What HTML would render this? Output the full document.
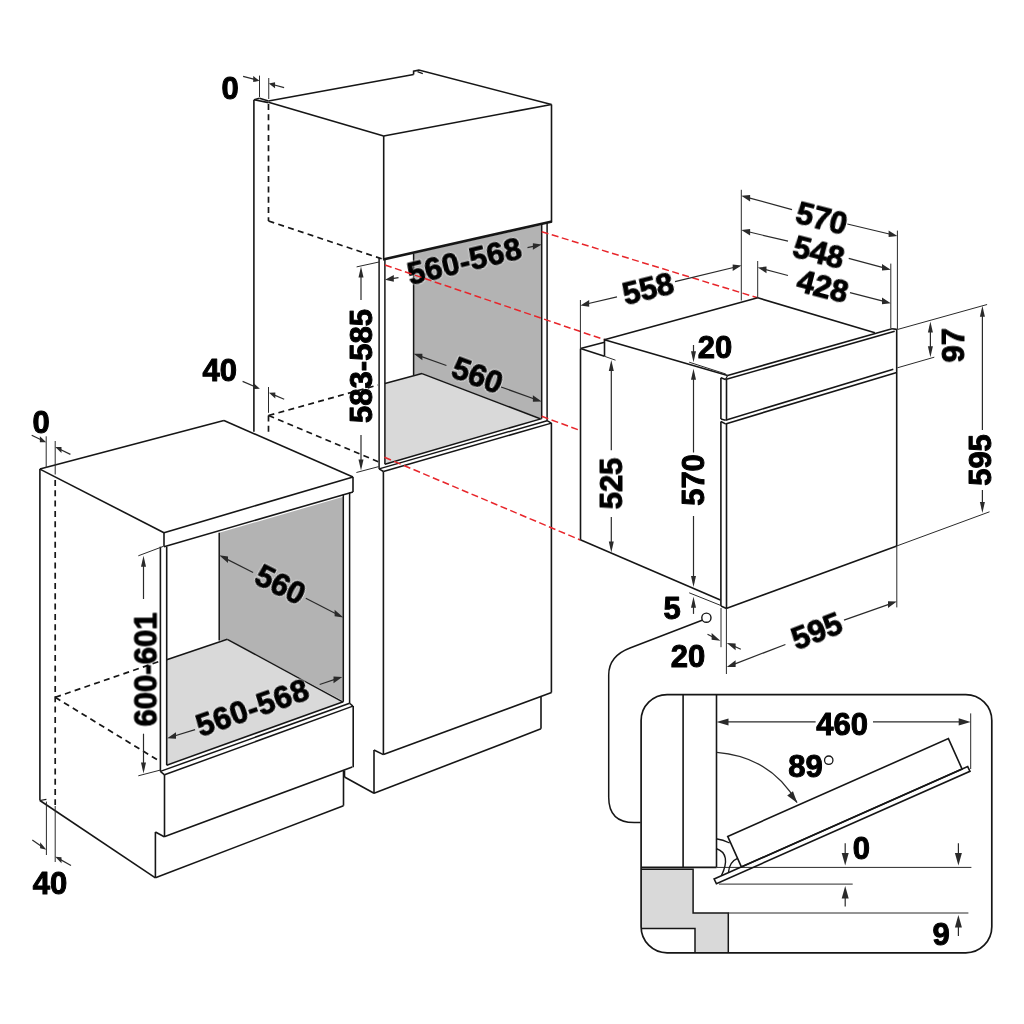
<!DOCTYPE html>
<html><head><meta charset="utf-8"><style>
html,body{margin:0;padding:0;background:#fff;}
svg{display:block;}
text{filter:url(#nolcd);}
text{font-family:"Liberation Sans",sans-serif;font-weight:bold;fill:#000;stroke:#000;stroke-width:1.0px;stroke-linejoin:round;}
</style></head><body>
<svg width="1024" height="1024" viewBox="0 0 1024 1024">
<defs><filter id="nolcd" x="-20%" y="-20%" width="140%" height="140%"><feOffset dx="0" dy="0"/></filter></defs>
<rect width="1024" height="1024" fill="#fff"/>
<polygon points="413.6,253.5 541.7,225 541.7,418.6 422,373.6 413.6,375" fill="#b3b3b3"/>
<polygon points="384.9,383.4 422,373.6 540.3,418.75 384.9,464.2" fill="#d9d9d9"/>
<line x1="254.1" y1="99.8" x2="268.5" y2="102.6" stroke="#161616" stroke-width="1.6" stroke-linecap="butt"/>
<line x1="259.5" y1="98.3" x2="268.5" y2="101.0" stroke="#161616" stroke-width="1.6" stroke-linecap="butt"/>
<line x1="254.1" y1="99.8" x2="259.5" y2="98.3" stroke="#161616" stroke-width="1.6" stroke-linecap="butt"/>
<line x1="268.5" y1="101.0" x2="413.6" y2="74.5" stroke="#161616" stroke-width="1.6" stroke-linecap="butt"/>
<polyline points="413.6,74.5 413.6,71.1 418.9,70.1 551.5,104.5" fill="none" stroke="#161616" stroke-width="1.6" stroke-linejoin="miter"/>
<line x1="417.5" y1="71.6" x2="422.8" y2="73.6" stroke="#161616" stroke-width="1.2" stroke-linecap="butt"/>
<line x1="268.5" y1="102.3" x2="383.7" y2="136" stroke="#161616" stroke-width="1.6" stroke-linecap="butt"/>
<line x1="383.7" y1="136" x2="551.5" y2="104.5" stroke="#161616" stroke-width="1.6" stroke-linecap="butt"/>
<line x1="551.5" y1="104.5" x2="551.5" y2="222" stroke="#161616" stroke-width="1.6" stroke-linecap="butt"/>
<line x1="383.7" y1="136" x2="383.7" y2="259.5" stroke="#161616" stroke-width="1.6" stroke-linecap="butt"/>
<line x1="253.9" y1="99.8" x2="253.9" y2="431.8" stroke="#161616" stroke-width="1.6" stroke-linecap="butt"/>
<line x1="383.0" y1="259.5" x2="552" y2="221.5" stroke="#161616" stroke-width="2.6" stroke-linecap="butt"/>
<line x1="268.5" y1="104" x2="268.5" y2="221" stroke="#161616" stroke-width="1.7" stroke-dasharray="6,4.3" stroke-linecap="butt"/>
<line x1="268.5" y1="221" x2="382.5" y2="259" stroke="#161616" stroke-width="1.7" stroke-dasharray="6,4.3" stroke-linecap="butt"/>
<line x1="379.1" y1="258" x2="379.1" y2="468.9" stroke="#161616" stroke-width="1.5" stroke-linecap="butt"/>
<line x1="384.9" y1="260" x2="384.9" y2="464.2" stroke="#161616" stroke-width="1.5" stroke-linecap="butt"/>
<line x1="413.6" y1="254" x2="413.6" y2="375" stroke="#161616" stroke-width="1.5" stroke-linecap="butt"/>
<line x1="541.7" y1="223" x2="541.7" y2="418.6" stroke="#161616" stroke-width="1.5" stroke-linecap="butt"/>
<line x1="547.1" y1="222" x2="547.1" y2="420.7" stroke="#161616" stroke-width="1.5" stroke-linecap="butt"/>
<line x1="384.9" y1="383.4" x2="422" y2="373.6" stroke="#161616" stroke-width="1.5" stroke-linecap="butt"/>
<line x1="422" y1="373.6" x2="540.3" y2="418.75" stroke="#161616" stroke-width="1.5" stroke-linecap="butt"/>
<line x1="384.9" y1="464.2" x2="541.7" y2="418.6" stroke="#161616" stroke-width="1.5" stroke-linecap="butt"/>
<line x1="379.1" y1="468.9" x2="547.1" y2="420.7" stroke="#161616" stroke-width="1.5" stroke-linecap="butt"/>
<line x1="383.4" y1="471.5" x2="551.4" y2="423.1" stroke="#161616" stroke-width="1.5" stroke-linecap="butt"/>
<line x1="379.1" y1="468.9" x2="383.4" y2="471.5" stroke="#161616" stroke-width="1.5" stroke-linecap="butt"/>
<line x1="547.1" y1="420.7" x2="551.4" y2="423.1" stroke="#161616" stroke-width="1.5" stroke-linecap="butt"/>
<line x1="383.4" y1="471.5" x2="383.4" y2="754.6" stroke="#161616" stroke-width="1.6" stroke-linecap="butt"/>
<line x1="551.4" y1="423.1" x2="551.4" y2="692.5" stroke="#161616" stroke-width="1.6" stroke-linecap="butt"/>
<line x1="383.4" y1="754.6" x2="551.6" y2="692.5" stroke="#161616" stroke-width="1.6" stroke-linecap="butt"/>
<line x1="374" y1="750" x2="383.4" y2="754.6" stroke="#161616" stroke-width="1.6" stroke-linecap="butt"/>
<line x1="374" y1="750" x2="374" y2="793.3" stroke="#161616" stroke-width="1.6" stroke-linecap="butt"/>
<line x1="374" y1="793.3" x2="541" y2="728.8" stroke="#161616" stroke-width="1.6" stroke-linecap="butt"/>
<line x1="541" y1="697" x2="541" y2="728.8" stroke="#161616" stroke-width="1.6" stroke-linecap="butt"/>
<line x1="344.5" y1="770.5" x2="344.5" y2="777" stroke="#161616" stroke-width="1.6" stroke-linecap="butt"/>
<line x1="344.5" y1="777" x2="374" y2="793.3" stroke="#161616" stroke-width="1.6" stroke-linecap="butt"/>
<line x1="268.5" y1="415.5" x2="378" y2="385.0" stroke="#161616" stroke-width="1.7" stroke-dasharray="6,4.3" stroke-linecap="butt"/>
<line x1="268.5" y1="415.5" x2="378.2" y2="461.7" stroke="#161616" stroke-width="1.7" stroke-dasharray="6,4.3" stroke-linecap="butt"/>
<line x1="268.5" y1="415.5" x2="268.5" y2="432" stroke="#161616" stroke-width="1.7" stroke-dasharray="6,4.3" stroke-linecap="butt"/>
<line x1="259.5" y1="75.6" x2="259.5" y2="97.1" stroke="#2a2a2a" stroke-width="1.0" stroke-linecap="butt"/>
<line x1="268.75" y1="78" x2="268.75" y2="99" stroke="#2a2a2a" stroke-width="1.0" stroke-linecap="butt"/>
<line x1="243.1" y1="76.4" x2="255.6307866025269" y2="79.68551112139426" stroke="#2a2a2a" stroke-width="1.2" stroke-linecap="butt"/>
<polygon points="259.50,80.70 253.20,76.05 253.20,82.05" fill="#2a2a2a"/>
<line x1="284.1" y1="87.7" x2="272.60172574753153" y2="84.47898506282642" stroke="#2a2a2a" stroke-width="1.2" stroke-linecap="butt"/>
<polygon points="268.75,83.40 275.05,82.16 275.05,88.16" fill="#2a2a2a"/>
<text transform="translate(230,88.5) rotate(0) scale(1.0,1)" x="0" y="0" font-size="31" text-anchor="middle" dominant-baseline="central" opacity="0.999">0</text>
<line x1="268.5" y1="387" x2="268.5" y2="412.8" stroke="#2a2a2a" stroke-width="1.0" stroke-linecap="butt"/>
<line x1="242.6" y1="381.4" x2="256.21466257285743" y2="387.14491542091673" stroke="#2a2a2a" stroke-width="1.2" stroke-linecap="butt"/>
<polygon points="259.90,388.70 253.60,383.04 253.60,389.04" fill="#2a2a2a"/>
<line x1="284.2" y1="399.3" x2="272.67783049066696" y2="394.3727564598247" stroke="#2a2a2a" stroke-width="1.2" stroke-linecap="butt"/>
<polygon points="269.00,392.80 275.30,392.49 275.30,398.49" fill="#2a2a2a"/>
<text transform="translate(219.8,370) rotate(0) scale(1.0,1)" x="0" y="0" font-size="31" text-anchor="middle" dominant-baseline="central" opacity="0.999">40</text>
<line x1="356.6" y1="266.9" x2="379" y2="262" stroke="#2a2a2a" stroke-width="1.0" stroke-linecap="butt"/>
<line x1="356.4" y1="472.5" x2="378.7" y2="466.6" stroke="#2a2a2a" stroke-width="1.0" stroke-linecap="butt"/>
<line x1="361" y1="300" x2="361.0" y2="270.5" stroke="#2a2a2a" stroke-width="1.2" stroke-linecap="butt"/>
<polygon points="361.00,266.50 363.50,277.50 358.50,277.50" fill="#2a2a2a"/>
<line x1="361" y1="435" x2="361.0" y2="466.5" stroke="#2a2a2a" stroke-width="1.2" stroke-linecap="butt"/>
<polygon points="361.00,470.50 358.50,459.50 363.50,459.50" fill="#2a2a2a"/>
<text transform="translate(361,366) rotate(-90) scale(1.0,1)" x="0" y="0" font-size="31" text-anchor="middle" dominant-baseline="central" opacity="0.999">583-585</text>
<line x1="398.5" y1="277.6" x2="388.9479211700618" y2="279.15663506858255" stroke="#2a2a2a" stroke-width="1.2" stroke-linecap="butt"/>
<polygon points="385.00,279.80 393.80,275.07 393.80,281.67" fill="#2a2a2a"/>
<line x1="527.5" y1="247.7" x2="537.8038271598214" y2="245.305448617788" stroke="#2a2a2a" stroke-width="1.2" stroke-linecap="butt"/>
<polygon points="541.70,244.40 532.90,243.15 532.90,249.75" fill="#2a2a2a"/>
<text transform="translate(464.5,261) rotate(-13.5) scale(1.0,1)" x="0" y="0" font-size="31" text-anchor="middle" dominant-baseline="central" letter-spacing="0.4" style="fill:#fff;stroke:#fff;stroke-width:3.2px;opacity:0.45">560-568</text>
<text transform="translate(464.5,261) rotate(-13.5) scale(1.0,1)" x="0" y="0" font-size="31" text-anchor="middle" dominant-baseline="central" letter-spacing="0.4" opacity="0.999">560-568</text>
<line x1="446.4" y1="365.5" x2="417.36748710469595" y2="355.1438902172239" stroke="#2a2a2a" stroke-width="1.2" stroke-linecap="butt"/>
<polygon points="413.60,353.80 422.40,353.64 422.40,360.24" fill="#2a2a2a"/>
<line x1="501" y1="387" x2="537.9349196953125" y2="400.2493815123234" stroke="#2a2a2a" stroke-width="1.2" stroke-linecap="butt"/>
<polygon points="541.70,401.60 532.90,395.14 532.90,401.74" fill="#2a2a2a"/>
<text transform="translate(477.5,375.3) rotate(20.5) scale(1.0,1)" x="0" y="0" font-size="31" text-anchor="middle" dominant-baseline="central" style="fill:#fff;stroke:#fff;stroke-width:3.2px;opacity:0.45">560</text>
<text transform="translate(477.5,375.3) rotate(20.5) scale(1.0,1)" x="0" y="0" font-size="31" text-anchor="middle" dominant-baseline="central" opacity="0.999">560</text>
<polygon points="219.2,532.7 343.4,496.8 343.4,701 227.3,639.3 219.2,640.5" fill="#b3b3b3"/>
<polygon points="166.7,659.7 227.3,639.3 342.7,701.8 166.7,765.2" fill="#d9d9d9"/>
<line x1="39.9" y1="469.1" x2="223.9" y2="420.6" stroke="#161616" stroke-width="1.6" stroke-linecap="butt"/>
<line x1="223.9" y1="420.6" x2="353" y2="476.9" stroke="#161616" stroke-width="1.6" stroke-linecap="butt"/>
<line x1="39.9" y1="469.1" x2="164" y2="532.7" stroke="#161616" stroke-width="1.6" stroke-linecap="butt"/>
<line x1="164" y1="532.7" x2="353" y2="476.9" stroke="#161616" stroke-width="1.6" stroke-linecap="butt"/>
<line x1="164" y1="546.7" x2="353" y2="491.9" stroke="#161616" stroke-width="1.6" stroke-linecap="butt"/>
<line x1="164" y1="532.7" x2="164" y2="546.7" stroke="#161616" stroke-width="1.6" stroke-linecap="butt"/>
<line x1="353" y1="476.9" x2="353" y2="491.9" stroke="#161616" stroke-width="1.6" stroke-linecap="butt"/>
<line x1="39.9" y1="469.1" x2="39.9" y2="800.5" stroke="#161616" stroke-width="1.6" stroke-linecap="butt"/>
<line x1="160.4" y1="546.7" x2="160.4" y2="771.4" stroke="#161616" stroke-width="1.6" stroke-linecap="butt"/>
<line x1="166.7" y1="546.7" x2="166.7" y2="765.2" stroke="#161616" stroke-width="1.6" stroke-linecap="butt"/>
<line x1="219.2" y1="532.7" x2="219.2" y2="640.5" stroke="#161616" stroke-width="1.5" stroke-linecap="butt"/>
<line x1="343.3" y1="494.5" x2="343.3" y2="701.8" stroke="#161616" stroke-width="1.5" stroke-linecap="butt"/>
<line x1="349.6" y1="492.5" x2="349.6" y2="703.2" stroke="#161616" stroke-width="1.5" stroke-linecap="butt"/>
<line x1="166.7" y1="659.7" x2="227.3" y2="639.3" stroke="#161616" stroke-width="1.5" stroke-linecap="butt"/>
<line x1="227.3" y1="639.3" x2="342.7" y2="701.8" stroke="#161616" stroke-width="1.5" stroke-linecap="butt"/>
<line x1="166.7" y1="765.2" x2="343.3" y2="701.8" stroke="#161616" stroke-width="1.5" stroke-linecap="butt"/>
<line x1="160.4" y1="771.4" x2="349.6" y2="703.2" stroke="#161616" stroke-width="1.5" stroke-linecap="butt"/>
<line x1="164.5" y1="774.8" x2="352.9" y2="706.1" stroke="#161616" stroke-width="1.5" stroke-linecap="butt"/>
<line x1="160.4" y1="771.4" x2="164.5" y2="774.8" stroke="#161616" stroke-width="1.5" stroke-linecap="butt"/>
<line x1="349.6" y1="703.2" x2="352.9" y2="706.1" stroke="#161616" stroke-width="1.5" stroke-linecap="butt"/>
<line x1="164.5" y1="774.8" x2="164.5" y2="837" stroke="#161616" stroke-width="1.6" stroke-linecap="butt"/>
<line x1="353.2" y1="706.1" x2="353.2" y2="767.2" stroke="#161616" stroke-width="1.6" stroke-linecap="butt"/>
<line x1="164.2" y1="836.7" x2="352.3" y2="767" stroke="#161616" stroke-width="1.6" stroke-linecap="butt"/>
<line x1="155.4" y1="832" x2="164.2" y2="836.7" stroke="#161616" stroke-width="1.6" stroke-linecap="butt"/>
<line x1="155.4" y1="832" x2="155.4" y2="877.8" stroke="#161616" stroke-width="1.6" stroke-linecap="butt"/>
<line x1="155.4" y1="877.8" x2="343.5" y2="805.7" stroke="#161616" stroke-width="1.6" stroke-linecap="butt"/>
<line x1="343.5" y1="770.5" x2="343.5" y2="805.7" stroke="#161616" stroke-width="1.6" stroke-linecap="butt"/>
<line x1="39.9" y1="800.5" x2="155.4" y2="877.8" stroke="#161616" stroke-width="1.6" stroke-linecap="butt"/>
<line x1="39.9" y1="800.5" x2="46.4" y2="799.3" stroke="#161616" stroke-width="1.2" stroke-linecap="butt"/>
<line x1="55.2" y1="480" x2="55.2" y2="805" stroke="#161616" stroke-width="1.7" stroke-dasharray="6,4.3" stroke-linecap="butt"/>
<line x1="55.2" y1="697.3" x2="160.6" y2="661" stroke="#161616" stroke-width="1.7" stroke-dasharray="6,4.3" stroke-linecap="butt"/>
<line x1="55.2" y1="697.3" x2="160.6" y2="761.8" stroke="#161616" stroke-width="1.7" stroke-dasharray="6,4.3" stroke-linecap="butt"/>
<line x1="46.2" y1="436.3" x2="46.2" y2="468" stroke="#2a2a2a" stroke-width="1.0" stroke-linecap="butt"/>
<line x1="55.2" y1="441" x2="55.2" y2="474.5" stroke="#2a2a2a" stroke-width="1.0" stroke-linecap="butt"/>
<line x1="31.7" y1="435.2" x2="42.59779345454169" y2="440.4610037366753" stroke="#2a2a2a" stroke-width="1.2" stroke-linecap="butt"/>
<polygon points="46.20,442.20 39.90,436.16 39.90,442.16" fill="#2a2a2a"/>
<line x1="70.4" y1="454.4" x2="58.787098683828496" y2="448.669950008468" stroke="#2a2a2a" stroke-width="1.2" stroke-linecap="butt"/>
<polygon points="55.20,446.90 61.50,447.01 61.50,453.01" fill="#2a2a2a"/>
<text transform="translate(41.1,422.8) rotate(0) scale(1.0,1)" x="0" y="0" font-size="31" text-anchor="middle" dominant-baseline="central" opacity="0.999">0</text>
<line x1="46.4" y1="801.6" x2="46.4" y2="855" stroke="#2a2a2a" stroke-width="1.0" stroke-linecap="butt"/>
<line x1="55.2" y1="806" x2="55.2" y2="862" stroke="#2a2a2a" stroke-width="1.0" stroke-linecap="butt"/>
<line x1="32.3" y1="840" x2="43.104514401051325" y2="847.4328928858297" stroke="#2a2a2a" stroke-width="1.2" stroke-linecap="butt"/>
<polygon points="46.40,849.70 40.10,842.37 40.10,848.37" fill="#2a2a2a"/>
<line x1="71" y1="865.5" x2="58.69454054541915" y2="858.6463263797272" stroke="#2a2a2a" stroke-width="1.2" stroke-linecap="butt"/>
<polygon points="55.20,856.70 61.50,857.21 61.50,863.21" fill="#2a2a2a"/>
<text transform="translate(49.9,883) rotate(0) scale(1.0,1)" x="0" y="0" font-size="31" text-anchor="middle" dominant-baseline="central" opacity="0.999">40</text>
<line x1="138.3" y1="555.8" x2="163" y2="546.5" stroke="#2a2a2a" stroke-width="1.0" stroke-linecap="butt"/>
<line x1="138.3" y1="775.8" x2="160.6" y2="770" stroke="#2a2a2a" stroke-width="1.0" stroke-linecap="butt"/>
<line x1="143.5" y1="599" x2="143.5" y2="559.8" stroke="#2a2a2a" stroke-width="1.2" stroke-linecap="butt"/>
<polygon points="143.50,555.80 146.00,566.80 141.00,566.80" fill="#2a2a2a"/>
<line x1="143.5" y1="733.7" x2="143.5" y2="769.5" stroke="#2a2a2a" stroke-width="1.2" stroke-linecap="butt"/>
<polygon points="143.50,773.50 141.00,762.50 146.00,762.50" fill="#2a2a2a"/>
<text transform="translate(145.4,669.5) rotate(-90) scale(1.0,1)" x="0" y="0" font-size="31" text-anchor="middle" dominant-baseline="central" opacity="0.999">600-601</text>
<line x1="253.1" y1="572.5" x2="222.7671243767436" y2="557.109868415339" stroke="#2a2a2a" stroke-width="1.2" stroke-linecap="butt"/>
<polygon points="219.20,555.30 228.00,556.46 228.00,563.06" fill="#2a2a2a"/>
<line x1="305.8" y1="598.2" x2="339.8452688174657" y2="615.7659099749691" stroke="#2a2a2a" stroke-width="1.2" stroke-linecap="butt"/>
<polygon points="343.40,617.60 334.60,609.76 334.60,616.36" fill="#2a2a2a"/>
<text transform="translate(280.5,584.5) rotate(26.6) scale(1.0,1)" x="0" y="0" font-size="31" text-anchor="middle" dominant-baseline="central" style="fill:#fff;stroke:#fff;stroke-width:3.2px;opacity:0.45">560</text>
<text transform="translate(280.5,584.5) rotate(26.6) scale(1.0,1)" x="0" y="0" font-size="31" text-anchor="middle" dominant-baseline="central" opacity="0.999">560</text>
<line x1="195.1" y1="729.6" x2="171.022523082984" y2="737.0217312360695" stroke="#2a2a2a" stroke-width="1.2" stroke-linecap="butt"/>
<polygon points="167.20,738.20 176.00,732.19 176.00,738.79" fill="#2a2a2a"/>
<line x1="319.7" y1="684.5" x2="338.5086353472948" y2="678.1749721840955" stroke="#2a2a2a" stroke-width="1.2" stroke-linecap="butt"/>
<polygon points="342.30,676.90 333.50,676.56 333.50,683.16" fill="#2a2a2a"/>
<text transform="translate(252.5,707.5) rotate(-19.3) scale(1.0,1)" x="0" y="0" font-size="31" text-anchor="middle" dominant-baseline="central" letter-spacing="0.5" style="fill:#fff;stroke:#fff;stroke-width:3.2px;opacity:0.45">560-568</text>
<text transform="translate(252.5,707.5) rotate(-19.3) scale(1.0,1)" x="0" y="0" font-size="31" text-anchor="middle" dominant-baseline="central" letter-spacing="0.5" opacity="0.999">560-568</text>
<line x1="385" y1="265" x2="604.4" y2="339.7" stroke="#e8262b" stroke-width="1.5" stroke-dasharray="7,3.5" stroke-linecap="butt"/>
<line x1="541.7" y1="231.7" x2="757.7" y2="297.8" stroke="#e8262b" stroke-width="1.5" stroke-dasharray="7,3.5" stroke-linecap="butt"/>
<line x1="384.5" y1="457.3" x2="580.3" y2="540" stroke="#e8262b" stroke-width="1.5" stroke-dasharray="7,3.5" stroke-linecap="butt"/>
<line x1="541.7" y1="416.3" x2="580.3" y2="430.5" stroke="#e8262b" stroke-width="1.5" stroke-dasharray="7,3.5" stroke-linecap="butt"/>
<line x1="580.5" y1="348.5" x2="580.5" y2="539.7" stroke="#161616" stroke-width="1.6" stroke-linecap="butt"/>
<line x1="580.5" y1="348.5" x2="604.5" y2="342.2" stroke="#161616" stroke-width="1.6" stroke-linecap="butt"/>
<line x1="604.5" y1="338.7" x2="604.5" y2="356.3" stroke="#161616" stroke-width="1.6" stroke-linecap="butt"/>
<line x1="580.5" y1="348.5" x2="604.5" y2="356.3" stroke="#161616" stroke-width="1.6" stroke-linecap="butt"/>
<line x1="604.4" y1="339.7" x2="727.6" y2="375.4" stroke="#161616" stroke-width="1.6" stroke-linecap="butt"/>
<line x1="604.4" y1="339.7" x2="757.7" y2="297.8" stroke="#161616" stroke-width="1.6" stroke-linecap="butt"/>
<line x1="757.7" y1="297.8" x2="874.9" y2="332.8" stroke="#161616" stroke-width="1.6" stroke-linecap="butt"/>
<line x1="727.6" y1="375.4" x2="892" y2="328.7" stroke="#161616" stroke-width="1.6" stroke-linecap="butt"/>
<line x1="725.5" y1="379.5" x2="894.7" y2="331.2" stroke="#161616" stroke-width="1.6" stroke-linecap="butt"/>
<line x1="892" y1="328.7" x2="896.7" y2="329.4" stroke="#161616" stroke-width="1.6" stroke-linecap="butt"/>
<line x1="720.9" y1="377.8" x2="725.5" y2="379.5" stroke="#161616" stroke-width="1.5" stroke-linecap="butt"/>
<line x1="727.6" y1="375.4" x2="725.5" y2="379.5" stroke="#161616" stroke-width="1.2" stroke-linecap="butt"/>
<line x1="720.9" y1="377.8" x2="720.9" y2="419" stroke="#161616" stroke-width="1.6" stroke-linecap="butt"/>
<line x1="720.9" y1="421.5" x2="720.9" y2="606" stroke="#161616" stroke-width="1.6" stroke-linecap="butt"/>
<line x1="720.9" y1="606" x2="726.5" y2="608.5" stroke="#161616" stroke-width="1.4" stroke-linecap="butt"/>
<line x1="726.5" y1="379.5" x2="726.5" y2="420.2" stroke="#161616" stroke-width="1.6" stroke-linecap="butt"/>
<line x1="726.5" y1="423.9" x2="726.5" y2="608.5" stroke="#161616" stroke-width="1.6" stroke-linecap="butt"/>
<line x1="725.5" y1="420.2" x2="893.3" y2="369.3" stroke="#161616" stroke-width="1.6" stroke-linecap="butt"/>
<line x1="725.5" y1="423.9" x2="896.7" y2="372.5" stroke="#161616" stroke-width="1.6" stroke-linecap="butt"/>
<line x1="720.9" y1="419" x2="725.5" y2="420.2" stroke="#161616" stroke-width="1.5" stroke-linecap="butt"/>
<line x1="720.9" y1="421.5" x2="725.5" y2="423.9" stroke="#161616" stroke-width="1.5" stroke-linecap="butt"/>
<line x1="896.7" y1="329" x2="896.7" y2="546" stroke="#161616" stroke-width="1.6" stroke-linecap="butt"/>
<line x1="726.2" y1="608.5" x2="896.8" y2="545.9" stroke="#161616" stroke-width="1.6" stroke-linecap="butt"/>
<line x1="580.3" y1="539.7" x2="720.4" y2="599.9" stroke="#161616" stroke-width="1.6" stroke-linecap="butt"/>
<line x1="580.4" y1="300" x2="580.4" y2="348" stroke="#2a2a2a" stroke-width="1.0" stroke-linecap="butt"/>
<line x1="741.3" y1="189.8" x2="741.3" y2="300.5" stroke="#2a2a2a" stroke-width="1.0" stroke-linecap="butt"/>
<line x1="757.7" y1="261" x2="757.7" y2="297.9" stroke="#2a2a2a" stroke-width="1.0" stroke-linecap="butt"/>
<line x1="890.8" y1="263.6" x2="890.8" y2="328.2" stroke="#2a2a2a" stroke-width="1.0" stroke-linecap="butt"/>
<line x1="897.4" y1="230.6" x2="897.4" y2="329" stroke="#2a2a2a" stroke-width="1.0" stroke-linecap="butt"/>
<line x1="617" y1="296.8" x2="584.2939475537144" y2="304.48502871688675" stroke="#2a2a2a" stroke-width="1.2" stroke-linecap="butt"/>
<polygon points="580.40,305.40 589.20,300.03 589.20,306.63" fill="#2a2a2a"/>
<line x1="675" y1="281.7" x2="737.6123158127283" y2="266.5412288032342" stroke="#2a2a2a" stroke-width="1.2" stroke-linecap="butt"/>
<polygon points="741.50,265.60 732.70,264.43 732.70,271.03" fill="#2a2a2a"/>
<text transform="translate(648,288.5) rotate(-13.9) scale(1.0,1)" x="0" y="0" font-size="31" text-anchor="middle" dominant-baseline="central" opacity="0.999">558</text>
<line x1="792" y1="209.6" x2="745.1595818264021" y2="196.8505370651746" stroke="#2a2a2a" stroke-width="1.2" stroke-linecap="butt"/>
<polygon points="741.30,195.80 750.10,194.90 750.10,201.50" fill="#2a2a2a"/>
<line x1="847.3" y1="224" x2="893.5082756278692" y2="234.97561836270748" stroke="#2a2a2a" stroke-width="1.2" stroke-linecap="butt"/>
<polygon points="897.40,235.90 888.60,230.51 888.60,237.11" fill="#2a2a2a"/>
<text transform="translate(821.8,218.2) rotate(14.4) scale(1.0,1)" x="0" y="0" font-size="31" text-anchor="middle" dominant-baseline="central" opacity="0.999">570</text>
<line x1="788" y1="241.2" x2="745.191582214844" y2="231.0249799268687" stroke="#2a2a2a" stroke-width="1.2" stroke-linecap="butt"/>
<polygon points="741.30,230.10 750.10,228.89 750.10,235.49" fill="#2a2a2a"/>
<line x1="848.7" y1="258.3" x2="886.9390463070229" y2="268.6545161021392" stroke="#2a2a2a" stroke-width="1.2" stroke-linecap="butt"/>
<polygon points="890.80,269.70 882.00,264.02 882.00,270.62" fill="#2a2a2a"/>
<text transform="translate(818.8,252.2) rotate(14.6) scale(1.0,1)" x="0" y="0" font-size="31" text-anchor="middle" dominant-baseline="central" opacity="0.999">548</text>
<line x1="788" y1="275.5" x2="761.5706047106504" y2="268.60916756482305" stroke="#2a2a2a" stroke-width="1.2" stroke-linecap="butt"/>
<polygon points="757.70,267.60 766.50,266.59 766.50,273.19" fill="#2a2a2a"/>
<line x1="850" y1="292.6" x2="886.9285251661856" y2="302.1941756559208" stroke="#2a2a2a" stroke-width="1.2" stroke-linecap="butt"/>
<polygon points="890.80,303.20 882.00,297.61 882.00,304.21" fill="#2a2a2a"/>
<text transform="translate(822.8,286.3) rotate(14.6) scale(1.0,1)" x="0" y="0" font-size="31" text-anchor="middle" dominant-baseline="central" opacity="0.999">428</text>
<line x1="897.4" y1="329.5" x2="987.1" y2="304.5" stroke="#2a2a2a" stroke-width="1.0" stroke-linecap="butt"/>
<line x1="897.4" y1="367.8" x2="934.3" y2="357.2" stroke="#2a2a2a" stroke-width="1.0" stroke-linecap="butt"/>
<line x1="930.4" y1="340" x2="930.4" y2="325.6" stroke="#2a2a2a" stroke-width="1.2" stroke-linecap="butt"/>
<polygon points="930.40,321.60 932.90,332.60 927.90,332.60" fill="#2a2a2a"/>
<line x1="930.4" y1="340" x2="930.4" y2="353.2" stroke="#2a2a2a" stroke-width="1.2" stroke-linecap="butt"/>
<polygon points="930.40,357.20 927.90,346.20 932.90,346.20" fill="#2a2a2a"/>
<text transform="translate(953,345.3) rotate(-90) scale(1.0,1)" x="0" y="0" font-size="31" text-anchor="middle" dominant-baseline="central" opacity="0.999">97</text>
<line x1="896.7" y1="546" x2="989.5" y2="511.8" stroke="#2a2a2a" stroke-width="1.0" stroke-linecap="butt"/>
<line x1="982.4" y1="430" x2="982.4" y2="309.8" stroke="#2a2a2a" stroke-width="1.2" stroke-linecap="butt"/>
<polygon points="982.40,305.80 984.90,316.80 979.90,316.80" fill="#2a2a2a"/>
<line x1="982.4" y1="489.9" x2="982.4" y2="509.0" stroke="#2a2a2a" stroke-width="1.2" stroke-linecap="butt"/>
<polygon points="982.40,513.00 979.90,502.00 984.90,502.00" fill="#2a2a2a"/>
<text transform="translate(980,460) rotate(-90) scale(1.0,1)" x="0" y="0" font-size="31" text-anchor="middle" dominant-baseline="central" opacity="0.999">595</text>
<line x1="604.5" y1="356.3" x2="615.5" y2="360.2" stroke="#2a2a2a" stroke-width="1.0" stroke-linecap="butt"/>
<line x1="611.3" y1="450.3" x2="611.3" y2="364.0" stroke="#2a2a2a" stroke-width="1.2" stroke-linecap="butt"/>
<polygon points="611.30,360.00 613.80,371.00 608.80,371.00" fill="#2a2a2a"/>
<line x1="611.3" y1="517" x2="611.3" y2="548.6" stroke="#2a2a2a" stroke-width="1.2" stroke-linecap="butt"/>
<polygon points="611.30,552.60 608.80,541.60 613.80,541.60" fill="#2a2a2a"/>
<text transform="translate(611,483.5) rotate(-90) scale(1.0,1)" x="0" y="0" font-size="31" text-anchor="middle" dominant-baseline="central" opacity="0.999">525</text>
<line x1="693.5" y1="452.5" x2="693.5" y2="372.7" stroke="#2a2a2a" stroke-width="1.2" stroke-linecap="butt"/>
<polygon points="693.50,368.70 696.00,379.70 691.00,379.70" fill="#2a2a2a"/>
<line x1="693.5" y1="516" x2="693.5" y2="583.0" stroke="#2a2a2a" stroke-width="1.2" stroke-linecap="butt"/>
<polygon points="693.50,587.00 691.00,576.00 696.00,576.00" fill="#2a2a2a"/>
<text transform="translate(693,480) rotate(-90) scale(1.0,1)" x="0" y="0" font-size="31" text-anchor="middle" dominant-baseline="central" opacity="0.999">570</text>
<line x1="689.2" y1="362.2" x2="725.8" y2="374" stroke="#2a2a2a" stroke-width="1.0" stroke-linecap="butt"/>
<line x1="693.5" y1="345" x2="693.5" y2="358.2" stroke="#2a2a2a" stroke-width="1.2" stroke-linecap="butt"/>
<polygon points="693.50,362.20 691.00,351.20 696.00,351.20" fill="#2a2a2a"/>
<text transform="translate(715,347.5) rotate(0) scale(1.0,1)" x="0" y="0" font-size="31" text-anchor="middle" dominant-baseline="central" opacity="0.999">20</text>
<line x1="689.2" y1="592.8" x2="720.4" y2="605.3" stroke="#2a2a2a" stroke-width="1.0" stroke-linecap="butt"/>
<line x1="693.5" y1="613.9" x2="693.5" y2="600.7" stroke="#2a2a2a" stroke-width="1.2" stroke-linecap="butt"/>
<polygon points="693.50,596.70 696.00,607.70 691.00,607.70" fill="#2a2a2a"/>
<text transform="translate(672,608) rotate(0) scale(1.0,1)" x="0" y="0" font-size="31" text-anchor="middle" dominant-baseline="central" opacity="0.999">5</text>
<line x1="721" y1="608" x2="721" y2="647.2" stroke="#2a2a2a" stroke-width="1.0" stroke-linecap="butt"/>
<line x1="726.4" y1="608.5" x2="726.4" y2="674" stroke="#2a2a2a" stroke-width="1.0" stroke-linecap="butt"/>
<line x1="707.5" y1="634.3" x2="716.8167530672197" y2="638.9222650876129" stroke="#2a2a2a" stroke-width="1.2" stroke-linecap="butt"/>
<polygon points="720.40,640.70 711.60,633.03 711.60,639.63" fill="#2a2a2a"/>
<line x1="740.8" y1="649.3" x2="730.4378979023431" y2="644.5630390410712" stroke="#2a2a2a" stroke-width="1.2" stroke-linecap="butt"/>
<polygon points="726.80,642.90 735.60,643.62 735.60,650.22" fill="#2a2a2a"/>
<text transform="translate(688,656) rotate(0) scale(1.0,1)" x="0" y="0" font-size="31" text-anchor="middle" dominant-baseline="central" opacity="0.999">20</text>
<line x1="896.8" y1="546" x2="896.8" y2="607.4" stroke="#2a2a2a" stroke-width="1.0" stroke-linecap="butt"/>
<line x1="844" y1="620.1" x2="893.0272478458329" y2="602.8290376906725" stroke="#2a2a2a" stroke-width="1.2" stroke-linecap="butt"/>
<polygon points="896.80,601.50 888.00,601.30 888.00,607.90" fill="#2a2a2a"/>
<line x1="785.4" y1="644.5" x2="730.5342029947241" y2="665.5662189866673" stroke="#2a2a2a" stroke-width="1.2" stroke-linecap="butt"/>
<polygon points="726.80,667.00 735.60,660.32 735.60,666.92" fill="#2a2a2a"/>
<text transform="translate(816.7,631) rotate(-21.1) scale(1.0,1)" x="0" y="0" font-size="31" text-anchor="middle" dominant-baseline="central" opacity="0.999">595</text>
<circle cx="706.4" cy="617.7" r="4.6" fill="#fff" stroke="#161616" stroke-width="1.4"/>
<path d="M702.1,620.3 L630,648 Q608.7,656 608.7,675 L608.7,797.2 Q608.7,822.6 634.2,822.6 L640.6,822.6" fill="none" stroke="#161616" stroke-width="1.5"/>
<rect x="641.1" y="694.6" width="350.7" height="258.2" rx="26" ry="26" fill="none" stroke="#161616" stroke-width="1.7"/>
<polygon points="642,869.3 693.1,869.3 693.1,913 728.3,913 728.3,952 695,952 695,928.6 642,928.6" fill="#d9d9d9"/>
<polyline points="641.1,869.3 693.1,869.3 693.1,913 728.3,913 728.3,952.8" fill="none" stroke="#161616" stroke-width="1.5" stroke-linejoin="miter"/>
<polyline points="641.1,928.6 695,928.6 695,952.8" fill="none" stroke="#161616" stroke-width="1.5" stroke-linejoin="miter"/>
<line x1="683.1" y1="694.6" x2="683.1" y2="867.4" stroke="#161616" stroke-width="1.6" stroke-linecap="butt"/>
<line x1="716.5" y1="694.6" x2="716.5" y2="867.4" stroke="#161616" stroke-width="1.6" stroke-linecap="butt"/>
<line x1="641.1" y1="867.4" x2="716.5" y2="867.4" stroke="#161616" stroke-width="1.6" stroke-linecap="butt"/>
<line x1="716.5" y1="867.4" x2="971.4" y2="867.4" stroke="#2a2a2a" stroke-width="1.0" stroke-linecap="butt"/>
<line x1="719" y1="884.1" x2="852.7" y2="884.1" stroke="#2a2a2a" stroke-width="1.0" stroke-linecap="butt"/>
<line x1="728.3" y1="913" x2="968.4" y2="913" stroke="#2a2a2a" stroke-width="1.0" stroke-linecap="butt"/>
<line x1="845.2" y1="843.3" x2="845.2" y2="861.6" stroke="#2a2a2a" stroke-width="1.2" stroke-linecap="butt"/>
<polygon points="845.20,865.60 841.70,853.10 848.70,853.10" fill="#2a2a2a"/>
<line x1="845.2" y1="906.4" x2="845.2" y2="890.0" stroke="#2a2a2a" stroke-width="1.2" stroke-linecap="butt"/>
<polygon points="845.20,886.00 848.70,898.50 841.70,898.50" fill="#2a2a2a"/>
<line x1="958.4" y1="843.3" x2="958.4" y2="861.6" stroke="#2a2a2a" stroke-width="1.2" stroke-linecap="butt"/>
<polygon points="958.40,865.60 954.90,853.10 961.90,853.10" fill="#2a2a2a"/>
<line x1="958.4" y1="936" x2="958.4" y2="918.9" stroke="#2a2a2a" stroke-width="1.2" stroke-linecap="butt"/>
<polygon points="958.40,914.90 961.90,927.40 954.90,927.40" fill="#2a2a2a"/>
<text transform="translate(861.3,848.5) rotate(0) scale(1.0,1)" x="0" y="0" font-size="31" text-anchor="middle" dominant-baseline="central" opacity="0.999">0</text>
<text transform="translate(941,934.5) rotate(0) scale(1.0,1)" x="0" y="0" font-size="31" text-anchor="middle" dominant-baseline="central" opacity="0.999">9</text>
<line x1="970.7" y1="713.4" x2="970.7" y2="769" stroke="#2a2a2a" stroke-width="1.0" stroke-linecap="butt"/>
<line x1="815.6" y1="721.9" x2="720.5" y2="721.9" stroke="#2a2a2a" stroke-width="1.2" stroke-linecap="butt"/>
<polygon points="716.50,721.90 728.50,718.40 728.50,725.40" fill="#2a2a2a"/>
<line x1="873" y1="721.9" x2="966.7" y2="721.9" stroke="#2a2a2a" stroke-width="1.2" stroke-linecap="butt"/>
<polygon points="970.70,721.90 958.70,718.30 958.70,725.50" fill="#2a2a2a"/>
<text transform="translate(842.2,724) rotate(0) scale(1.0,1)" x="0" y="0" font-size="31" text-anchor="middle" dominant-baseline="central" opacity="0.999">460</text>
<text transform="translate(805.5,766) rotate(0) scale(1.0,1)" x="0" y="0" font-size="31" text-anchor="middle" dominant-baseline="central" opacity="0.999">89</text>
<circle cx="828.75" cy="760.2" r="4.2" fill="none" stroke="#161616" stroke-width="1.3"/>
<path d="M716.8,752.4 Q771,757 797,802.5" fill="none" stroke="#2a2a2a" stroke-width="1.3"/>
<polygon points="797.30,803.00 787.20,795.58 792.95,791.25" fill="#2a2a2a"/>
<polygon points="727.7,836.4 948.4,738.6 962.1,769.1 741.4,866.9" fill="#fff"/>
<polygon points="727.7,836.4 948.4,738.6 962.1,769.1 741.4,866.9" fill="none" stroke="#161616" stroke-width="1.6" stroke-linejoin="miter"/>
<polygon points="714.1,879.0 967.7,766.6 970,771.3 716.4,883.7" fill="none" stroke="#161616" stroke-width="1.6" stroke-linejoin="miter"/>
<path d="M716,838.75 Q723,839.5 729.7,843 M716,848.5 C727,852 728,862 721.5,875.5 M737.5,858.3 C731,861 729,866 728.5,872.3" fill="none" stroke="#161616" stroke-width="1.4"/>
</svg></body></html>
